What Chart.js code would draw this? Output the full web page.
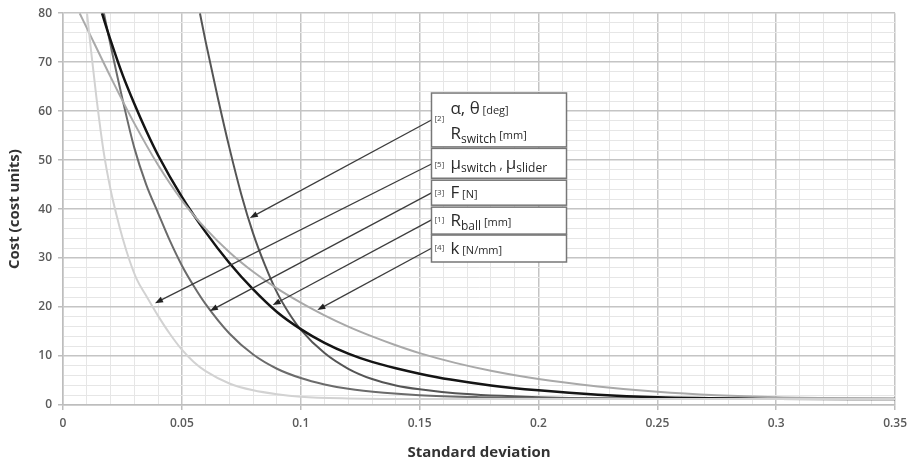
<!doctype html>
<html lang="en">
  <head>
    <meta charset="utf-8">
    <title>Cost vs standard deviation</title>
    <style>
      * { margin: 0; padding: 0; }
      body { background: #fff; }
      .chartBox { width: 913px; height: 463px; }
    </style>
  </head>
  <body>
    <div class="chartBox">
      <canvas id="myChart" width="913" height="463"></canvas>
    </div>
    <script src="https://cdn.jsdelivr.net/npm/chart.js/dist/chart.umd.min.js"></script>
    <script>
    // data (standard deviation -> cost)
    const sdMu = [0.0101, 0.012, 0.014, 0.017, 0.02, 0.0225, 0.025, 0.028, 0.031, 0.035, 0.04, 0.045, 0.05, 0.055, 0.06, 0.07, 0.08, 0.09, 0.1, 0.12, 0.15, 0.35];
    const costMu = [80, 71.5, 63, 52, 44, 38.8, 34.2, 29.5, 25.7, 22.3, 18.2, 14.5, 11.3, 8.8, 6.9, 4.4, 3.0, 2.2, 1.7, 1.35, 1.2, 1.2];

    const sdK = [0.007, 0.01, 0.02, 0.03, 0.04, 0.05, 0.06, 0.07, 0.08, 0.09, 0.1, 0.11, 0.12, 0.13, 0.14, 0.15, 0.165, 0.18, 0.2, 0.225, 0.25, 0.275, 0.3, 0.35];
    const costK = [80, 77, 67, 57.5, 49, 41.8, 36, 31.2, 27.2, 23.8, 20.9, 18.3, 16, 14, 12.2, 10.6, 8.6, 7, 5.3, 3.8, 2.7, 2, 1.6, 1.3];

    const sdBall = [0.0164, 0.02, 0.025, 0.03, 0.035, 0.04, 0.05, 0.06, 0.07, 0.08, 0.09, 0.1, 0.11, 0.12, 0.13, 0.14, 0.15, 0.163, 0.18, 0.2, 0.225, 0.25, 0.3, 0.35];
    const costBall = [80, 74.5, 67.5, 61.5, 56, 51, 42.5, 35.3, 29, 23.6, 19, 15.5, 12.7, 10.5, 8.8, 7.5, 6.4, 5.2, 4.0, 3.0, 2.1, 1.6, 1.3, 1.2];

    const sdF = [0.0172, 0.02, 0.025, 0.03, 0.035, 0.04, 0.045, 0.05, 0.055, 0.06, 0.07, 0.08, 0.09, 0.1, 0.11, 0.12, 0.135, 0.15, 0.175, 0.2, 0.25, 0.35];
    const costF = [80, 73.5, 62.5, 52.5, 45, 39.2, 33.5, 28.5, 24.3, 20.6, 14.6, 10.3, 7.4, 5.5, 4.2, 3.3, 2.5, 2.0, 1.6, 1.4, 1.3, 1.2];

    const sdAlpha = [0.0576, 0.06, 0.065, 0.07, 0.075, 0.08, 0.085, 0.09, 0.095, 0.1, 0.11, 0.12, 0.13, 0.14, 0.15, 0.165, 0.2, 0.25, 0.35];
    const costAlpha = [80, 74.2, 63, 52.5, 43, 35, 28.5, 23, 18.8, 15.4, 10.6, 7.4, 5.3, 4.0, 3.2, 2.4, 1.6, 1.3, 1.2];

    const yTicks = [0, 10, 20, 30, 40, 50, 60, 70, 80];
    const xTicks = [0, 0.05, 0.1, 0.15, 0.2, 0.25, 0.3, 0.35];

    const pts = (xs, ys) => xs.map((x, i) => ({ x: x, y: ys[i] }));
    const isMajorX = v => xTicks.some(t => Math.abs(t - v) < 1e-6);
    const isMajorY = v => yTicks.some(t => Math.abs(t - v) < 1e-6);

    const data = {
      datasets: [
        { label: 'mu', data: pts(sdMu, costMu), borderColor: '#d2d2d2', borderWidth: 2 },
        { label: 'k', data: pts(sdK, costK), borderColor: '#a9a9a9', borderWidth: 2 },
        { label: 'R ball', data: pts(sdBall, costBall), borderColor: '#141414', borderWidth: 2.5 },
        { label: 'F', data: pts(sdF, costF), borderColor: '#6b6b6b', borderWidth: 2 },
        { label: 'alpha', data: pts(sdAlpha, costAlpha), borderColor: '#555555', borderWidth: 2 }
      ]
    };

    // annotation boxes + arrows, placed in data units
    const noteX = [0.155, 0.2118];
    const noteRows = [
      { top: 63.7, bottom: 52.7, tag: '[2]', tagDy: 28, lines: [
          { dy: 21, segs: [['α, θ', 17, 0], [' [deg]', 11, 0]] },
          { dy: 46, segs: [['R', 17, 0], ['switch', 12, 4], [' [mm]', 11, 0]] } ],
        arrow: { from: 58.2, to: [0.0786, 38.2] } },
      { top: 52.4, bottom: 46.3, tag: '[5]', tagDy: 19, lines: [
          { dy: 21, segs: [['μ', 17, 0], ['switch', 12, 3], [' , ', 12, 0], ['μ', 17, 0], ['slider', 12, 3]] } ],
        arrow: { from: 49.2, to: [0.0387, 20.8] } },
      { top: 45.9, bottom: 40.8, tag: '[3]', tagDy: 15, lines: [
          { dy: 18, segs: [['F', 17, 0], [' [N]', 11, 0]] } ],
        arrow: { from: 43.3, to: [0.0618, 19.2] } },
      { top: 40.4, bottom: 34.9, tag: '[1]', tagDy: 15, lines: [
          { dy: 19, segs: [['R', 17, 0], ['ball', 12, 4], [' [mm]', 11, 0]] } ],
        arrow: { from: 37.8, to: [0.0882, 20.4] } },
      { top: 34.7, bottom: 29.2, tag: '[4]', tagDy: 15, lines: [
          { dy: 19, segs: [['k', 17, 0], [' [N/mm]', 11, 0]] } ],
        arrow: { from: 32.0, to: [0.107, 19.4] } }
    ];

    const noteFont = '"Open Sans", sans-serif';

    const notesPlugin = {
      id: 'notes',
      afterDatasetsDraw(chart) {
        const { ctx, scales: { x, y } } = chart;
        ctx.save();
        const left = x.getPixelForValue(noteX[0]);
        const right = x.getPixelForValue(noteX[1]);

        // arrows first, boxes on top
        noteRows.forEach(r => {
          const x0 = left, y0 = y.getPixelForValue(r.arrow.from);
          const x1 = x.getPixelForValue(r.arrow.to[0]), y1 = y.getPixelForValue(r.arrow.to[1]);
          const ang = Math.atan2(y1 - y0, x1 - x0);
          ctx.strokeStyle = '#3c3c3c';
          ctx.lineWidth = 1.3;
          ctx.beginPath();
          ctx.moveTo(x0, y0);
          ctx.lineTo(x1 - 6 * Math.cos(ang), y1 - 6 * Math.sin(ang));
          ctx.stroke();
          ctx.fillStyle = '#222';
          ctx.beginPath();
          ctx.moveTo(x1, y1);
          ctx.lineTo(x1 - 8 * Math.cos(ang) + 3 * Math.sin(ang), y1 - 8 * Math.sin(ang) - 3 * Math.cos(ang));
          ctx.lineTo(x1 - 8 * Math.cos(ang) - 3 * Math.sin(ang), y1 - 8 * Math.sin(ang) + 3 * Math.cos(ang));
          ctx.closePath();
          ctx.fill();
        });

        noteRows.forEach(r => {
          const top = y.getPixelForValue(r.top);
          const bottom = y.getPixelForValue(r.bottom);
          ctx.fillStyle = '#fff';
          ctx.fillRect(left, top, right - left, bottom - top);
          ctx.strokeStyle = '#777';
          ctx.lineWidth = 1.5;
          ctx.strokeRect(left, top, right - left, bottom - top);

          ctx.fillStyle = '#444';
          ctx.textBaseline = 'alphabetic';
          ctx.font = '8px ' + noteFont;
          ctx.fillText(r.tag, left + 3, top + r.tagDy);

          r.lines.forEach(line => {
            let cx = left + 19;
            line.segs.forEach(s => {
              ctx.font = s[1] + 'px ' + noteFont;
              ctx.fillStyle = '#2a2a2a';
              ctx.fillText(s[0], cx, top + line.dy + s[2]);
              cx += ctx.measureText(s[0]).width;
            });
          });
        });
        ctx.restore();
      }
    };

    const config = {
      type: 'scatter',
      data,
      options: {
        responsive: false,
        animation: false,
        layout: { padding: { top: 12, right: 17, left: 0, bottom: 0 } },
        elements: {
          point: { radius: 0, hoverRadius: 0 },
          line: { cubicInterpolationMode: 'monotone', fill: false }
        },
        datasets: { scatter: { showLine: true } },
        scales: {
          x: {
            type: 'linear',
            min: 0,
            max: 0.35,
            afterFit(scale) { scale.height = 58; },
            ticks: {
              stepSize: 0.01,
              autoSkip: false,
              maxRotation: 0,
              color: '#5a5a5a',
              font: { family: '"Open Sans", sans-serif', size: 12, weight: '600' },
              padding: 6,
              callback: v => isMajorX(v) ? String(+v.toFixed(2)) : ''
            },
            grid: {
              color: c => isMajorX(c.tick.value) ? '#c4c4c4' : '#e6e6e6',
              lineWidth: c => isMajorX(c.tick.value) ? 1.5 : 1,
              tickColor: c => isMajorX(c.tick.value) ? '#bdbdbd' : 'rgba(0,0,0,0)',
              tickLength: 5
            },
            border: { color: '#bdbdbd', width: 1.5 },
            title: {
              display: true,
              text: 'Standard deviation',
              color: '#333',
              font: { family: '"Open Sans", sans-serif', size: 15, weight: 'bold' },
              padding: { top: 2, bottom: 1 }
            }
          },
          y: {
            min: 0,
            max: 80,
            afterFit(scale) { scale.width = 63; },
            ticks: {
              stepSize: 2,
              autoSkip: false,
              color: '#5a5a5a',
              font: { family: '"Open Sans", sans-serif', size: 12, weight: '600' },
              padding: 6,
              callback: v => isMajorY(v) ? v : ''
            },
            grid: {
              color: c => isMajorY(c.tick.value) ? '#c4c4c4' : '#e6e6e6',
              lineWidth: c => isMajorY(c.tick.value) ? 1.5 : 1,
              tickColor: c => isMajorY(c.tick.value) ? '#bdbdbd' : 'rgba(0,0,0,0)',
              tickLength: 5
            },
            border: { color: '#bdbdbd', width: 1.5 },
            title: {
              display: true,
              text: 'Cost (cost units)',
              color: '#333',
              font: { family: '"Open Sans", sans-serif', size: 15, weight: 'bold' },
              padding: { top: 6, bottom: 0 }
            }
          }
        },
        plugins: {
          legend: { display: false },
          tooltip: { enabled: false }
        }
      },
      plugins: [notesPlugin]
    };

    const myChart = new Chart(document.getElementById('myChart'), config);
    </script>
  </body>
</html>
